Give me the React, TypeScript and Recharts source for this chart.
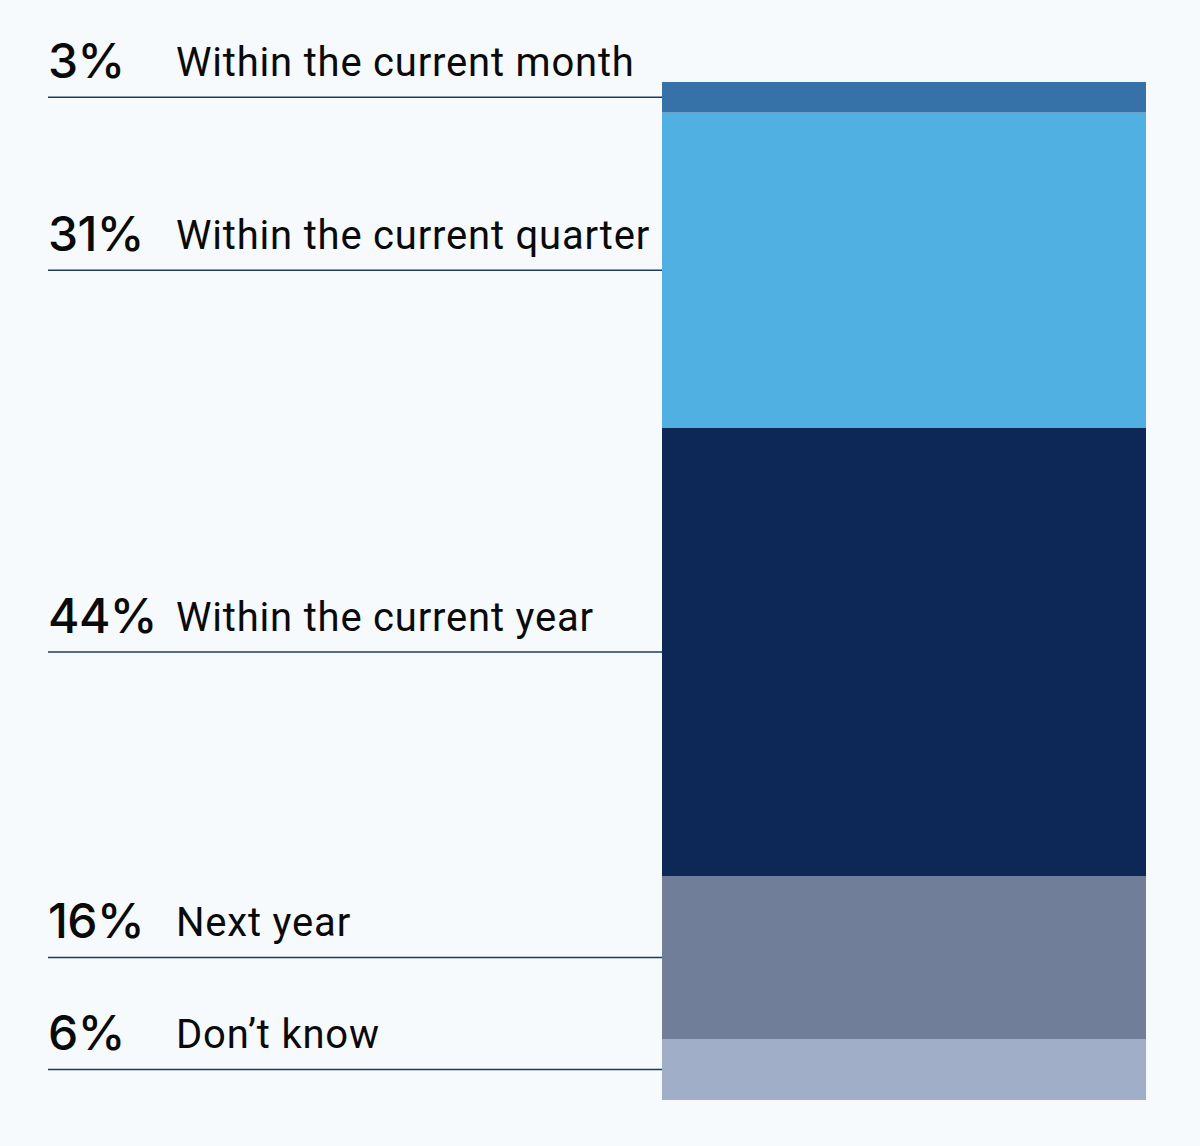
import { Bar, BarChart, LabelList, XAxis, YAxis } from "recharts";

// bottom of the stack first
const keys = ["dontKnow", "nextYear", "currentYear", "currentQuarter", "currentMonth"];
const labels = ["Don’t know", "Next year", "Within the current year", "Within the current quarter", "Within the current month"];
const values = [6, 16, 44, 31, 3];
const colors = ["#a0afc7", "#707e9a", "#0d2756", "#50b0e1", "#3671a8"];

const row: Record<string, number | string> = { name: "all" };
keys.forEach((k, i) => {
  row[k] = values[i];
});
const data = [row];

function makeLabel(label: string) {
  return (props: any) => {
    const { x, y, height, value } = props;
    const mid = Number(y) + Number(height) / 2;
    return (
      <g>
        <line x1={48} x2={Number(x)} y1={mid} y2={mid} stroke="#1e3a5f" strokeWidth={1.5} />
        <text
          x={48}
          y={mid - 19}
          fontFamily="Inter, sans-serif"
          fontWeight={500}
          fontSize={48}
          fill="#0a0a0a"
          letterSpacing={-0.6}
        >
          {value}%
        </text>
        <text
          x={176}
          y={mid - 21}
          fontFamily="Roboto, sans-serif"
          fontWeight={400}
          fontSize={40}
          fill="#0a0a0a"
          letterSpacing={0.8}
        >
          {label}
        </text>
      </g>
    );
  };
}

export default function App() {
  return (
    <div style={{ position: "absolute", top: 0, left: 0, width: 1200, height: 1146, background: "#f6fafc" }}>
      <BarChart
        width={1200}
        height={1146}
        data={data}
        margin={{ top: 82, right: 54, bottom: 46, left: 662 }}
        barCategoryGap={0}
      >
        <XAxis dataKey="name" hide />
        <YAxis hide domain={[0, 100]} />
        {keys.map((k, i) => (
          <Bar key={k} dataKey={k} stackId="a" fill={colors[i]} isAnimationActive={false}>
            <LabelList dataKey={k} content={makeLabel(labels[i])} />
          </Bar>
        ))}
      </BarChart>
    </div>
  );
}
